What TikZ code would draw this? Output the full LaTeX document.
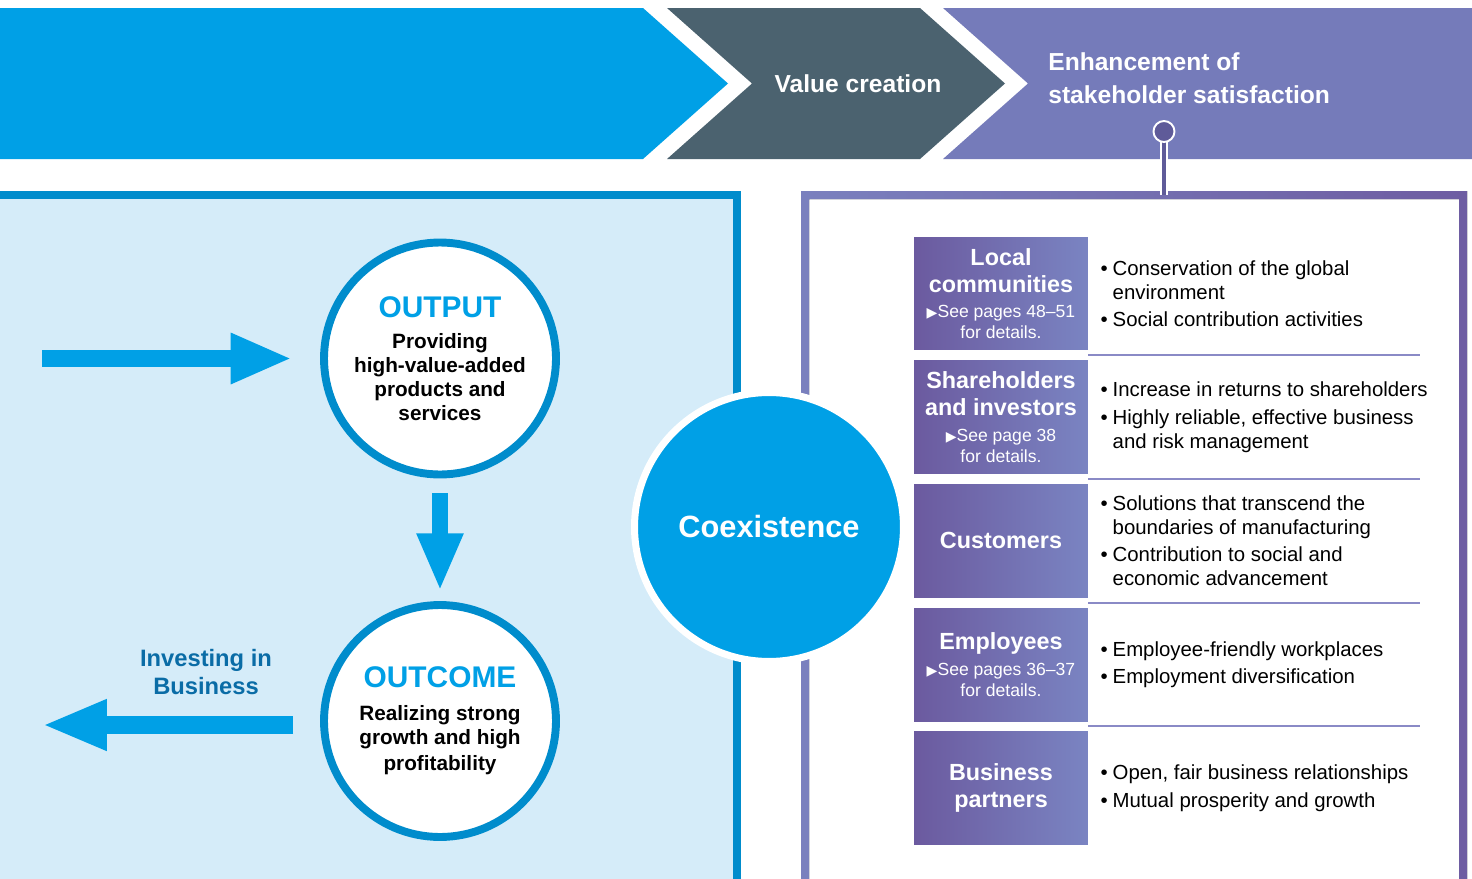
\documentclass[tikz,border=0pt]{standalone}
\usepackage{fontspec}
\setmainfont{Liberation Sans}
\newfontfamily\symfont{DejaVu Sans}
\usetikzlibrary{positioning,calc,arrows.meta}
\definecolor{skyblue}{HTML}{00A0E6}
\definecolor{slategray}{HTML}{4B626F}
\definecolor{lavender}{HTML}{757BBA}
\definecolor{palesky}{HTML}{D5ECF9}
\definecolor{deepsky}{HTML}{008CCC}
\definecolor{investblue}{HTML}{0A6CA6}
\definecolor{violetL}{HTML}{7A80BE}
\definecolor{violetR}{HTML}{6E5DA2}
\definecolor{boxL}{HTML}{6B5A9F}
\definecolor{boxR}{HTML}{7A84C2}
\definecolor{pinviolet}{HTML}{5F5B99}
\definecolor{ruleviolet}{HTML}{8A8AC6}
\newcommand{\hn}{\bfseries\fontsize{13.3}{15.3}\selectfont}
\newcommand{\hs}{\mdseries\fontsize{10}{12}\selectfont}
\newcommand{\seep}{{\symfont\fontsize{8}{8}\selectfont ▶}}
\newcommand{\bul}{\makebox[0.24cm][l]{•}}
\newcommand{\bcont}{\hspace*{0.24cm}}

\begin{document}
\begin{tikzpicture}[x=0.02cm,y=-0.02cm,every node/.style={inner sep=0pt},
  bannertext/.style={text=white,font=\bfseries\fontsize{14}{18.7}\selectfont},
  stage/.style={circle,draw=deepsky,line width=4.5pt,fill=white,minimum size=4.64cm,align=center,font=\bfseries\fontsize{11.8}{13.6}\selectfont},
  blockarrow/.style={draw=skyblue,line width=10.2pt},
  holder/.style={minimum width=3.48cm,minimum height=2.26cm,left color=boxL,right color=boxR,text=white,align=center,font=\hn},
  pointlist/.style={right=0.24cm of #1,align=left,font=\fontsize{11.6}{13.6}\selectfont},
  sepline/.style={draw=ruleviolet,line width=1.1pt}]
\useasboundingbox (0,0) rectangle (1472,879);
% banner
\fill[skyblue] (0,8) -- (643,8) -- (728,83.5) -- (643,159) -- (0,159) -- cycle;
\fill[slategray] (667,8) -- (920,8) -- (1005,83.5) -- (920,159) -- (667,159) -- (752,83.5) -- cycle;
\fill[lavender] (943,8) -- (1472,8) -- (1472,159) -- (943,159) -- (1028,83.5) -- cycle;
\node[bannertext] (value) at (858,83.5) {Value creation};
\node[bannertext,anchor=west,align=left] (enhance) at (1048,78.5) {Enhancement of\\stakeholder satisfaction};

% panels
\fill[palesky] (0,195) rectangle (737,879);
\draw[deepsky,line width=4.5pt] (0,195) -- (737,195) -- (737,879);
\fill[left color=violetL,right color=violetR,even odd rule] (801,191) rectangle (1467,879) (809,199) rectangle (1459,879);

% pin
\coordinate (pinc) at (1164,131.5);
\coordinate (pinfoot) at (1164,195);
\draw[white,line width=4.5pt] (pinc) -- (pinfoot);
\draw[pinviolet,line width=2.3pt] (pinc) -- (pinfoot);
\node[circle,fill=pinviolet,draw=white,line width=1.1pt,minimum size=0.42cm] (pin) at (pinc) {};

% output / outcome
\node[stage] (output) at (440,358.5) {{\color{skyblue}\fontsize{17}{20}\selectfont OUTPUT}\\[4.4pt]Providing\\high-value-added\\products and\\services};
\node[stage] (outcome) at (440,721) {{\color{skyblue}\fontsize{17}{20}\selectfont OUTCOME}\\[5pt]Realizing strong\\growth and high\\[1.2pt]profitability};
\coordinate (inflow) at (42,358.5);
\coordinate (reinvest) at (42,725);
\draw[blockarrow,-{Triangle[length=35pt,width=26.6pt]},shorten >=15.9pt] (inflow) -- (output.west);
\draw[blockarrow,line width=9.6pt,-{Triangle[length=32.9pt,width=24.4pt]},shorten <=8.5pt,shorten >=5.7pt] (output.south) -- (outcome.north);
\draw[blockarrow,-{Triangle[length=36.9pt,width=26.6pt]},shorten <=15.3pt] (reinvest -| outcome.west) -- (reinvest);
\node[text=investblue,font=\bfseries\fontsize{13.5}{16.4}\selectfont,align=center] (invest) at (206,672) {Investing in\\Business};

% coexistence
\node[circle,fill=skyblue,draw=white,line width=4pt,minimum size=5.38cm,text=white,font=\bfseries\fontsize{17.5}{21}\selectfont] (coexist) at (769,527) {Coexistence};

% stakeholders
\node[holder] (lc) at (1001,293.5) {Local\\communities\\[-0.8pt]\hs\seep See pages 48–51\\[-3.4pt]\hs for details.};
\node[holder,below=0.2cm of lc] (sh) {Shareholders\\and investors\\[-0.8pt]\hs\seep See page 38\\[-3.4pt]\hs for details.};
\node[holder,below=0.2cm of sh] (cu) {Customers};
\node[holder,below=0.2cm of cu] (em) {Employees\\[-0.8pt]\hs\seep See pages 36–37\\[-3.4pt]\hs for details.};
\node[holder,below=0.2cm of em] (bp) {Business\\partners};

\node[pointlist=lc] (lcpts) {\bul Conservation of the global\\\bcont environment\\[2pt]\bul Social contribution activities};
\node[pointlist=sh] (shpts) {\bul Increase in returns to shareholders\\[2pt]\bul Highly reliable, effective business\\\bcont and risk management};
\node[pointlist=cu] (cupts) {\bul Solutions that transcend the\\\bcont boundaries of manufacturing\\[2pt]\bul Contribution to social and\\\bcont economic advancement};
\node[pointlist=em] (empts) {\bul Employee-friendly workplaces\\[2pt]\bul Employment diversification};
\node[pointlist=bp] (bppts) {\bul Open, fair business relationships\\[2pt]\bul Mutual prosperity and growth};

\foreach \a/\b in {lc/sh,sh/cu,cu/em,em/bp}
  \draw[sepline] ($(\a.south east)!0.5!(\b.north east)$) -- ++(332,0);
\end{tikzpicture}
\end{document}
